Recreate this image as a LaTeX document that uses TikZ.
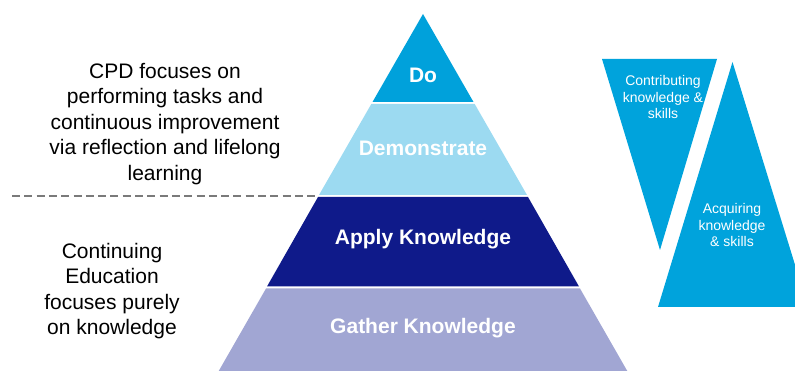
\documentclass[tikz,border=0pt]{standalone}
\usepackage{fontspec}
\setmainfont{Liberation Sans}
\usetikzlibrary{positioning}

\definecolor{doblue}{HTML}{00A1DB}
\definecolor{demoblue}{HTML}{9CDAF1}
\definecolor{applynavy}{HTML}{0F1A8A}
\definecolor{gatherlilac}{HTML}{A1A6D3}
\definecolor{sideblue}{HTML}{00A3DC}
\definecolor{dashgrey}{HTML}{7A7A7A}

\begin{document}
\begin{tikzpicture}[x=1pt, y=-1pt, semithick]
    \tikzstyle{band label}=[text=white, font=\bfseries\fontsize{21}{25}\selectfont]
    \tikzstyle{side note}=[text=black, align=center, font=\fontsize{21}{25.5}\selectfont]
    \tikzstyle{side label}=[text=white, align=center, font=\fontsize{14}{16.7}\selectfont]

    \useasboundingbox (0,0) rectangle (795,371);

    % pyramid bands
    \fill[doblue]      (423,14)  -- (372.5,102) -- (473.5,102) -- cycle;
    \fill[demoblue]    (371.3,104) -- (474.7,104) -- (527,195) -- (319,195) -- cycle;
    \fill[applynavy]   (318,197) -- (528,197) -- (579,286.5) -- (267,286.5) -- cycle;
    \fill[gatherlilac] (266,288.5) -- (580,288.5) -- (629,374) -- (217,374) -- cycle;

    \node[band label] (do)     at (423,75)  {Do};
    \node[band label] (demo)   at (423,148) {Demonstrate};
    \node[band label] (apply)  at (423,239) {Apply Knowledge};
    \node[band label] (gather) at (423,328) {Gather Knowledge};

    % split between CPD and CE
    \coordinate (split west) at (12,196);
    \coordinate (split east) at (318,196);
    \draw[dashgrey, line width=1.5pt, dash pattern=on 8pt off 4.3pt] (split west) -- (split east);

    \node[side note] (cpd) at (165,124)
        {CPD focuses on\\performing tasks and\\continuous improvement\\via reflection and lifelong\\learning};
    \node[side note] (ce)  at (112,291)
        {Continuing\\Education\\focuses purely\\on knowledge};

    % triangles on the right
    \fill[sideblue] (602,59) -- (717,59) -- (660,250) -- cycle;
    \begin{scope}
        \clip (0,0) rectangle (795,371);
        \fill[sideblue] (732.5,62) -- (808,307) -- (658,307) -- cycle;
    \end{scope}

    \node[side label] (giving)    at (663,97)  {Contributing\\knowledge \&\\skills};
    \node[side label] (acquiring) at (732,225) {Acquiring\\knowledge\\\& skills};
\end{tikzpicture}
\end{document}
